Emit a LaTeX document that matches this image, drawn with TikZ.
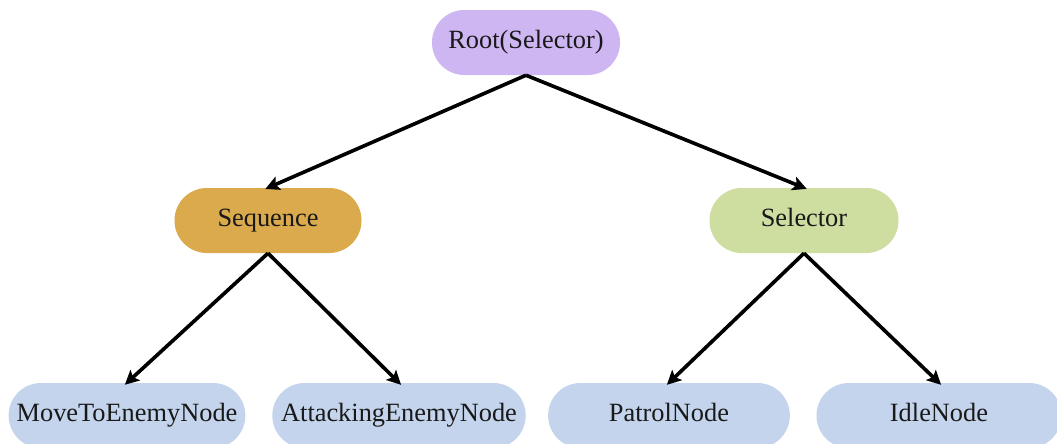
\documentclass[tikz,border=0pt]{standalone}
\usepackage{fontspec}
\setmainfont{Liberation Serif}
\usetikzlibrary{arrows.meta}
\definecolor{rootfill}{RGB}{205,182,242}
\definecolor{seqfill}{RGB}{218,170,76}
\definecolor{selfill}{RGB}{206,221,160}
\definecolor{leaffill}{RGB}{195,212,236}
\begin{document}
\begin{tikzpicture}[x=0.03cm,y=-0.03cm,
  bnode/.style={rectangle, rounded corners=0.97cm, minimum height=1.95cm,
    inner sep=0pt, text height=15pt, text depth=5pt,
    font=\fontsize{22.5}{26}\selectfont, text=black!90},
  link/.style={line width=3.1pt, shorten >=-2.5pt,
    -{Stealth[length=12pt,width=12pt,inset=2.5pt]}}]
\useasboundingbox (0,0) rectangle (1057,443);
\node[bnode, fill=rootfill, minimum width=5.64cm] (root) at (526,42.5) {Root(Selector)};
\node[bnode, fill=seqfill, minimum width=5.61cm] (seq) at (268,220.5) {Sequence};
\node[bnode, fill=selfill, minimum width=5.67cm] (sel) at (804,220.5) {Selector};
\node[bnode, fill=leaffill, minimum width=7.1cm] (move) at (127,415.5) {MoveToEnemyNode};
\node[bnode, fill=leaffill, minimum width=7.6cm] (attack) at (399,415.5) {AttackingEnemyNode};
\node[bnode, fill=leaffill, minimum width=7.25cm] (patrol) at (669,415.5) {PatrolNode};
\node[bnode, fill=leaffill, minimum width=7.35cm] (idle) at (939,415.5) {IdleNode};
\draw[link] (root.south) -- (seq.north);
\draw[link] (root.south) -- (sel.north);
\draw[link] (seq.south) -- (move.north);
\draw[link] (seq.south) -- (attack.north);
\draw[link] (sel.south) -- (patrol.north);
\draw[link] (sel.south) -- (idle.north);
\end{tikzpicture}
\end{document}
